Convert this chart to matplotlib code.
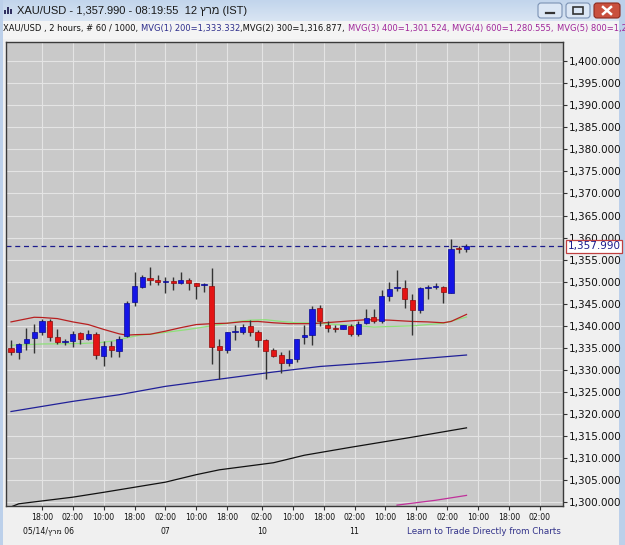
import matplotlib
matplotlib.use('Agg')
import matplotlib.pyplot as plt
import matplotlib.transforms as mtransforms
from matplotlib.patches import Rectangle, FancyBboxPatch
from matplotlib.ticker import FuncFormatter, MultipleLocator
import numpy as np

plt.rcParams['font.family'] = ['DejaVu Sans']

# 2 hour candles, XAU/USD, index 0 = 06 Mar 10:00
opens = [1334.99, 1334.08, 1336.1, 1337.3, 1338.6, 1341.0, 1337.4, 1336.4, 1336.5, 1338.4,
         1337.0, 1338.2, 1333.2, 1335.4, 1334.2, 1337.7, 1345.4, 1348.8, 1350.9, 1350.3,
         1350.0, 1350.2, 1349.6, 1350.5, 1349.8, 1349.3, 1349.05, 1335.4, 1334.5, 1338.5,
         1338.6, 1340.0, 1338.6, 1336.7, 1334.5, 1333.3, 1331.7, 1332.4, 1337.5, 1337.9,
         1344.1, 1340.3, 1339.4, 1339.4, 1340.0, 1338.2, 1340.7, 1342.0, 1341.0, 1346.8,
         1348.5, 1348.6, 1345.8, 1343.5, 1348.6, 1348.8, 1348.8, 1347.5, 1357.7, 1357.4]
highs = [1336.88, 1336.2, 1339.6, 1340.4, 1341.6, 1341.6, 1339.4, 1337.1, 1338.85, 1338.6,
         1339.0, 1338.5, 1336.5, 1336.5, 1337.6, 1345.65, 1352.1, 1351.6, 1353.4, 1351.6,
         1351.1, 1351.1, 1352.1, 1350.9, 1349.8, 1349.6, 1353.1, 1336.96, 1338.6, 1340.1,
         1340.5, 1341.4, 1339.0, 1337.1, 1335.0, 1334.1, 1334.6, 1337.1, 1340.1, 1344.5,
         1344.8, 1341.0, 1340.1, 1340.3, 1340.5, 1341.0, 1343.9, 1343.8, 1348.1, 1349.96,
         1352.6, 1350.5, 1347.2, 1348.8, 1349.2, 1349.6, 1349.0, 1359.6, 1358.05, 1358.65]
lows = [1333.33, 1332.4, 1334.5, 1333.9, 1337.9, 1336.5, 1335.8, 1335.6, 1335.2, 1336.0,
        1336.7, 1332.4, 1330.9, 1333.0, 1333.0, 1337.5, 1344.5, 1348.6, 1349.2, 1349.3,
        1347.5, 1348.1, 1349.4, 1348.1, 1346.0, 1347.7, 1331.4, 1328.0, 1333.9, 1336.7,
        1338.2, 1337.7, 1335.2, 1328.0, 1333.0, 1329.4, 1331.0, 1331.8, 1336.0, 1335.6,
        1340.0, 1338.5, 1338.5, 1339.2, 1337.7, 1337.7, 1340.5, 1340.7, 1340.7, 1345.6,
        1347.8, 1344.1, 1337.9, 1343.0, 1346.2, 1348.3, 1345.2, 1347.5, 1356.6, 1356.8]
closes = [1334.08, 1335.8, 1337.1, 1338.5, 1341.0, 1337.5, 1336.4, 1336.4, 1338.1, 1336.95,
          1338.2, 1333.5, 1335.4, 1334.5, 1337.0, 1345.1, 1348.97, 1351.1, 1350.3, 1349.9,
          1350.1, 1349.6, 1350.5, 1349.6, 1349.05, 1349.5, 1335.2, 1334.5, 1338.5, 1338.8,
          1339.75, 1338.5, 1336.7, 1334.3, 1333.2, 1331.7, 1332.4, 1336.96, 1337.9, 1343.9,
          1341.0, 1339.5, 1339.2, 1340.1, 1338.2, 1340.5, 1341.8, 1341.0, 1346.7, 1348.45,
          1348.8, 1346.2, 1343.5, 1348.6, 1348.8, 1348.9, 1347.7, 1357.5, 1357.4, 1357.99]
last_price = 1357.99

# moving averages (candle index, value)
red_idx = [0, 2, 3, 4, 6, 8, 10, 12, 14, 15, 16, 18, 20, 22, 24, 26, 28, 30, 32, 34,
           36, 39, 43, 46, 49, 52, 54, 56, 57, 59]
red_val = [1340.9, 1341.6, 1341.95, 1341.9, 1341.65, 1340.9, 1340.3, 1339.2, 1338.2, 1337.9,
           1338.0, 1338.1, 1338.8, 1339.6, 1340.3, 1340.5, 1340.6, 1340.95, 1341.0, 1340.7,
           1340.5, 1340.5, 1341.0, 1341.4, 1341.3, 1341.0, 1340.9, 1340.7, 1341.0, 1342.6]
green_idx = [0, 4, 9, 11.5, 13.7, 15, 16.7, 19, 23, 27, 29, 31, 33, 35, 37, 39, 45, 47, 52, 56, 59]
green_val = [1335.6, 1335.9, 1336.0, 1336.2, 1336.7, 1337.3, 1337.9, 1338.3, 1339.2, 1340.3,
             1340.9, 1341.3, 1341.4, 1341.0, 1340.7, 1340.7, 1340.0, 1339.75, 1340.0, 1340.6, 1342.0]
mvg1_idx = [0, 8, 14, 20, 26, 34, 40, 48, 52, 59]
mvg1_val = [1320.6, 1322.9, 1324.4, 1326.3, 1327.7, 1329.55, 1330.8, 1331.8, 1332.4, 1333.4]
mvg2_idx = [0, 1, 8, 12, 20, 24, 27, 34, 38, 44, 52, 59]
mvg2_val = [1299.0, 1299.7, 1301.2, 1302.3, 1304.6, 1306.3, 1307.4, 1309.0, 1310.7, 1312.5,
            1314.8, 1316.9]
mvg3_idx = [50, 55, 59]
mvg3_val = [1299.4, 1300.5, 1301.6]

tick_pos = [4, 8, 12, 16, 20, 24, 28, 32.5, 36.5, 40.5, 44.5, 48.5, 52.5, 56.5, 60.5, 64.5, 68.5]
tick_lbl = ['18:00', '02:00', '10:00', '18:00', '02:00', '10:00', '18:00', '02:00', '10:00',
            '18:00', '02:00', '10:00', '18:00', '02:00', '10:00', '18:00', '02:00']
heb_month = 'מרץ'
date_pos = [4.8, 20, 32.5, 44.5]
date_lbl = ['05/14/' + heb_month[::-1] + ' 06', '07', '10', '11']

W, H = 625, 545
fig = plt.figure(figsize=(W / 100, H / 100), dpi=100, facecolor='#f0f0f0')

# window chrome drawn in pixel coordinates
bg = fig.add_axes([0, 0, 1, 1], zorder=0)
bg.set_xlim(0, W)
bg.set_ylim(H, 0)
bg.axis('off')
grad = np.linspace(0, 1, 20).reshape(-1, 1)
bg.imshow(grad, extent=(0, W, 21, 0), cmap=matplotlib.colors.LinearSegmentedColormap.from_list(
    'tb', ['#c2d5ec', '#d9e5f3']), aspect='auto', zorder=1)
bg.add_patch(Rectangle((0, 21), W, 18, fc='#f4f4f4', ec='none', zorder=1))
bg.add_patch(Rectangle((0, 0), 3, H, fc='#bcd0ea', ec='none', zorder=2))
bg.add_patch(Rectangle((619, 0), 6, H, fc='#bcd0ea', ec='none', zorder=2))
bg.set_xlim(0, W)
bg.set_ylim(H, 0)

# icon
for k, (bx, bh) in enumerate([(4, 4), (7, 7), (10, 5)]):
    bg.add_patch(Rectangle((bx, 14 - bh), 1.6, bh, fc='#303060', ec='none', zorder=3))
bg.text(17, 10.5, 'XAU/USD - 1,357.990 - 08:19:55  12 ' + heb_month[::-1] + ' (IST)',
        fontsize=8, va='center', ha='left', color='#1a1a1a', zorder=3,
        family=['Liberation Sans', 'DejaVu Sans'])

# window buttons
bg.add_patch(FancyBboxPatch((538, 3), 24, 15, boxstyle='round,pad=0,rounding_size=3',
                            fc='#dce7f5', ec='#7b92b4', lw=0.8, zorder=3))
bg.plot([546, 554], [13, 13], color='#333', lw=1.6, zorder=4)
bg.add_patch(FancyBboxPatch((566, 3), 24, 15, boxstyle='round,pad=0,rounding_size=3',
                            fc='#dce7f5', ec='#7b92b4', lw=0.8, zorder=3))
bg.add_patch(Rectangle((573, 7), 10, 7, fc='none', ec='#333', lw=1.2, zorder=4))
bg.add_patch(FancyBboxPatch((594, 3), 26, 15, boxstyle='round,pad=0,rounding_size=3',
                            fc='#c9503e', ec='#8c2a1e', lw=0.8, zorder=3))
bg.plot([603, 611], [7, 14], color='white', lw=1.8, zorder=4)
bg.plot([603, 611], [14, 7], color='white', lw=1.8, zorder=4)

# header line with coloured segments
segments = [('XAU/USD , 2 hours, # 60 / 1000,', '#111111'),
            ('MVG(1) 200=1,333.332', '#2e2e8c'),
            (',MVG(2) 300=1,316.877,', '#111111'),
            ('MVG(3) 400=1,301.524,', '#a0279a'),
            ('MVG(4) 600=1,280.555,', '#a0279a'),
            ('MVG(5) 800=1,2', '#a0279a')]
renderer = fig.canvas.get_renderer()
x = 3
for k, (s, c) in enumerate(segments):
    t = bg.text(x, 29, s, fontsize=6, va='center', ha='left', color=c, zorder=3)
    bb = t.get_window_extent(renderer)
    x += bb.width + (3 if k in (0, 2, 3, 4) else 0)

# chart
ax = fig.add_axes([6 / W, 1 - 506 / H, 557 / W, 464 / H], zorder=2)
ax.set_facecolor('#c9c9c9')
ax.set_xlim(-0.65, 71.5)
ax.set_ylim(1299.2, 1404.3)

idx = np.arange(len(opens))
o = np.array(opens)
c = np.array(closes)
up = c >= o
col = np.where(up, '#1414e6', '#e41414')
ax.vlines(idx, lows, highs, color='#333333', lw=1.0, zorder=3)
body_h = np.maximum(np.abs(c - o), 0.25)
ax.bar(idx, body_h, bottom=np.minimum(o, c), width=0.68, color=col,
       edgecolor=np.where(up, '#0a0a90', '#900a0a'), lw=0.5, zorder=4)

ax.plot(mvg3_idx, mvg3_val, color='#c0309a', lw=0.9, zorder=2)
ax.plot(mvg2_idx, mvg2_val, color='#111111', lw=0.9, zorder=2)
ax.plot(mvg1_idx, mvg1_val, color='#202098', lw=0.9, zorder=2)
ax.plot(green_idx, green_val, color='#8ee07a', lw=0.9, zorder=2)
ax.plot(red_idx, red_val, color='#b82020', lw=0.9, zorder=2)

ax.axhline(last_price, color='#1c1c8c', lw=0.9, ls=(0, (4, 3)), zorder=2)

ax.yaxis.tick_right()
ax.yaxis.set_major_locator(MultipleLocator(5))
ax.yaxis.set_major_formatter(FuncFormatter(lambda v, p: '{:,.3f}'.format(v)))
ax.tick_params(axis='y', labelsize=7.5, length=3, pad=1, color='#333333', labelcolor='#111111')
ax.set_xticks(tick_pos)
ax.set_xticklabels(tick_lbl)
ax.tick_params(axis='x', labelsize=5.6, length=3, pad=2, color='#333333', labelcolor='#111111')
ax.grid(True, color='#e4e4e4', lw=0.8)
ax.set_axisbelow(True)
for sp in ax.spines.values():
    sp.set_color('#3a3a3a')
    sp.set_linewidth(1.0)

trans = mtransforms.blended_transform_factory(ax.transData, ax.transAxes)
for p, lbl in zip(date_pos, date_lbl):
    ax.text(p, -0.056, lbl, transform=trans, fontsize=5.6, ha='center', va='center',
            color='#111111')
ax.text(0.72, -0.056, 'Learn to Trade Directly from Charts', transform=ax.transAxes,
        fontsize=6.3, ha='left', va='center', color='#33338a')

ytrans = mtransforms.blended_transform_factory(ax.transAxes, ax.transData)
ax.text(1.008, last_price, '{:,.3f}'.format(last_price), transform=ytrans, fontsize=7.5,
        ha='left', va='center', color='#1c1c8c', zorder=6, clip_on=False,
        bbox=dict(boxstyle='square,pad=0.15', fc='white', ec='#c04040', lw=0.9))

fig.savefig('out.png', dpi=100, facecolor=fig.get_facecolor())
